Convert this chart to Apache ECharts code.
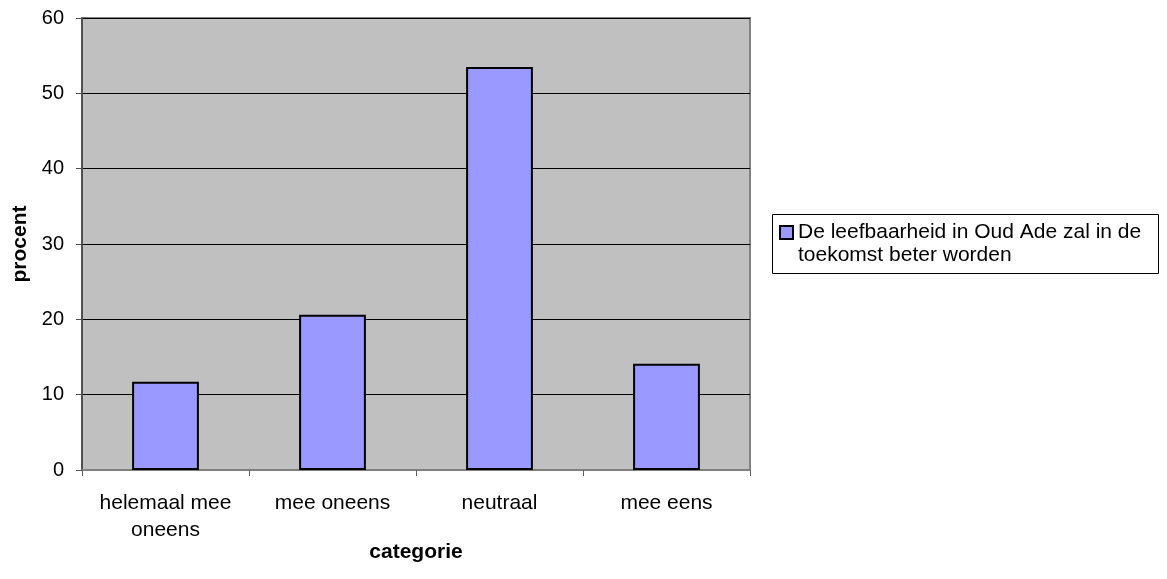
<!DOCTYPE html>
<html>
<head>
<meta charset="utf-8">
<script src="https://cdn.jsdelivr.net/npm/echarts@6/dist/echarts.min.js"></script>
<style>
  html, body { margin: 0; padding: 0; background: #fff; }
  #chart { width: 1167px; height: 579px; }
</style>
</head>
<body>
<div id="chart"></div>
<script>
// categorieen en waarden (procent)
var categories = ['helemaal mee\noneens', 'mee oneens', 'neutraal', 'mee eens'];
var values = [11.7, 20.6, 53.5, 14.1];
var seriesName = 'De leefbaarheid in Oud Ade zal in de toekomst beter worden';

var font = "'Liberation Sans', Arial, sans-serif";
var myChart = echarts.init(document.getElementById('chart'));

var option = {
  animation: false,
  textStyle: { fontFamily: font },
  grid: {
    left: 82, top: 18, right: 417, bottom: 109,
    show: true,
    backgroundColor: '#c0c0c0',
    borderColor: '#808080',
    borderWidth: 2
  },
  // kader om de legenda
  graphic: [{
    type: 'rect',
    shape: { x: 772.5, y: 214.5, width: 386, height: 59 },
    style: { fill: 'none', stroke: '#000', lineWidth: 1 },
    silent: true
  }],
  legend: {
    left: 779, top: 198,
    orient: 'vertical',
    padding: 0,
    itemWidth: 13, itemHeight: 13,
    icon: 'rect',
    // lege eerste regel zodat de tekst naast het icoon begint
    formatter: function () { return '\nDe leefbaarheid in Oud Ade zal in de\ntoekomst beter worden'; },
    textStyle: { fontSize: 21, color: '#000', fontFamily: font, lineHeight: 23 },
    data: [seriesName]
  },
  xAxis: {
    type: 'category',
    data: categories,
    name: 'categorie',
    nameLocation: 'middle',
    nameGap: 72,
    nameMoveOverlap: false,
    nameTextStyle: { fontSize: 21, fontWeight: 'bold', color: '#000', fontFamily: font },
    axisLine: { lineStyle: { color: '#808080', width: 2 } },
    axisTick: { show: true, interval: 0, length: 6, lineStyle: { color: '#606060' } },
    axisLabel: { interval: 0, fontSize: 21, color: '#000', margin: 20, lineHeight: 27, fontFamily: font }
  },
  yAxis: {
    type: 'value',
    min: 0, max: 60, interval: 10,
    name: 'procent',
    nameLocation: 'middle',
    nameGap: 51,
    nameMoveOverlap: false,
    nameTextStyle: { fontSize: 21, fontWeight: 'bold', color: '#000', fontFamily: font },
    axisLine: { show: true, lineStyle: { color: '#505050', width: 2 } },
    axisTick: { show: true, length: 6, lineStyle: { color: '#505050' } },
    axisLabel: { fontSize: 20, color: '#000', margin: 18, fontFamily: font },
    splitLine: { lineStyle: { color: '#000', width: 1 } }
  },
  series: [{
    name: seriesName,
    type: 'bar',
    data: values,
    barWidth: '40%',
    itemStyle: { color: '#9999ff', borderColor: '#000', borderWidth: 2 }
  }]
};

myChart.setOption(option);
</script>
</body>
</html>
